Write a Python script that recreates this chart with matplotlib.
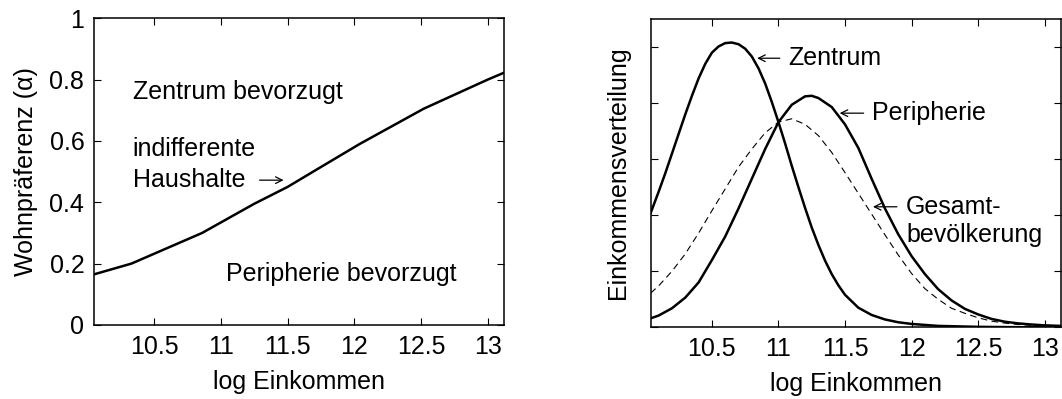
import matplotlib
matplotlib.use("Agg")
import matplotlib.pyplot as plt

plt.rcParams['font.family'] = ['Liberation Sans', 'DejaVu Sans']
plt.rcParams['font.size'] = 18

# left panel: Wohnpraeferenz der indifferenten Haushalte
x_alpha = [10.05, 10.33, 10.86, 11.25, 11.5, 11.75, 12.04, 12.52, 13.0, 13.12]
alpha = [0.165, 0.20, 0.30, 0.395, 0.45, 0.515, 0.59, 0.705, 0.80, 0.822]

# right panel: Einkommensverteilungen
x_zen = [10.04, 10.1, 10.15, 10.2, 10.25, 10.3, 10.35, 10.4, 10.45, 10.5, 10.55,
         10.6, 10.65, 10.7, 10.75, 10.8, 10.85, 10.9, 10.95, 11.0, 11.05, 11.1,
         11.15, 11.2, 11.25, 11.3, 11.35, 11.4, 11.45, 11.5, 11.6, 11.7, 11.8,
         11.9, 12.0, 12.2, 12.5, 12.8, 13.12]
zentrum = [2.04, 2.42, 2.75, 3.1, 3.45, 3.8, 4.13, 4.44, 4.7, 4.9, 5.01,
           5.07, 5.08, 5.05, 4.97, 4.83, 4.62, 4.35, 4.02, 3.66, 3.28, 2.88,
           2.5, 2.13, 1.78, 1.47, 1.19, 0.95, 0.75, 0.58, 0.35, 0.22, 0.14,
           0.09, 0.06, 0.025, 0.008, 0.002, 0.0]

x_per = [10.04, 10.1, 10.2, 10.3, 10.4, 10.5, 10.6, 10.7, 10.8, 10.9, 11.0, 11.1,
         11.2, 11.25, 11.3, 11.4, 11.5, 11.6, 11.7, 11.8, 11.9, 12.0, 12.1, 12.2,
         12.3, 12.4, 12.5, 12.6, 12.7, 12.8, 12.9, 13.0, 13.12]
peripherie = [0.16, 0.21, 0.34, 0.53, 0.8, 1.2, 1.62, 2.12, 2.65, 3.18, 3.66, 3.97,
              4.12, 4.13, 4.09, 3.93, 3.62, 3.2, 2.65, 2.12, 1.66, 1.27, 0.95, 0.68,
              0.48, 0.33, 0.23, 0.15, 0.1, 0.07, 0.05, 0.035, 0.025]

x_ges = [10.04, 10.1, 10.2, 10.3, 10.4, 10.5, 10.6, 10.7, 10.8, 10.9, 11.0, 11.1,
         11.2, 11.3, 11.4, 11.5, 11.6, 11.7, 11.8, 11.9, 12.0, 12.1, 12.2, 12.3,
         12.4, 12.5, 12.6, 12.7, 12.8, 12.9, 13.0, 13.12]
gesamt = [0.61, 0.74, 1.0, 1.31, 1.68, 2.08, 2.47, 2.86, 3.18, 3.47, 3.66, 3.72,
          3.62, 3.42, 3.12, 2.76, 2.39, 2.02, 1.65, 1.29, 0.96, 0.69, 0.5, 0.34,
          0.25, 0.17, 0.11, 0.075, 0.05, 0.035, 0.025, 0.018]

xticks = [10.5, 11, 11.5, 12, 12.5, 13]
xticklabels = ['10.5', '11', '11.5', '12', '12.5', '13']


def matlab_axes(ax):
    for s in ax.spines.values():
        s.set_linewidth(1.1)
    ax.tick_params(direction='in', length=5, width=0.8, top=True, right=True,
                   pad=7)


def arrow(ax, tip, tail):
    ax.annotate('', xy=tip, xytext=tail,
                arrowprops=dict(arrowstyle='->', lw=0.9, color='black',
                                shrinkA=0, shrinkB=0, mutation_scale=12))


fig = plt.figure(figsize=(10.62, 3.99), dpi=100)

ax1 = fig.add_axes([0.0885, 0.1855, 0.386, 0.769])
ax1.plot(x_alpha, alpha, color='black', lw=1.8)
ax1.set_xlim(10.05, 13.12)
ax1.set_ylim(0, 1)
ax1.set_xticks(xticks)
ax1.set_xticklabels(xticklabels)
ax1.set_yticks([0, 0.2, 0.4, 0.6, 0.8, 1])
ax1.set_yticklabels(['0', '0.2', '0.4', '0.6', '0.8', '1'])
ax1.set_xlabel('log Einkommen', labelpad=8)
ax1.set_ylabel('Wohnpräferenz (α)', labelpad=8)
matlab_axes(ax1)
ax1.text(10.34, 0.76, 'Zentrum bevorzugt', va='center', ha='left')
ax1.text(10.34, 0.573, 'indifferente', va='center', ha='left')
ax1.text(10.34, 0.472, 'Haushalte', va='center', ha='left')
arrow(ax1, (11.47, 0.472), (11.29, 0.472))
ax1.text(11.04, 0.166, 'Peripherie bevorzugt', va='center', ha='left')

ax2 = fig.add_axes([0.6127, 0.1797, 0.386, 0.7727])
ax2.plot(x_zen, zentrum, color='black', lw=1.8)
ax2.plot(x_per, peripherie, color='black', lw=1.8)
ax2.plot(x_ges, gesamt, color='black', lw=0.8, dashes=(6, 4))
ax2.set_xlim(10.04, 13.12)
ax2.set_ylim(0, 5.5)
ax2.set_xticks(xticks)
ax2.set_xticklabels(xticklabels)
ax2.set_yticks([0, 1, 2, 3, 4, 5])
ax2.set_yticklabels([])
ax2.set_xlabel('log Einkommen', labelpad=8)
ax2.set_ylabel('Einkommensverteilung', labelpad=8)
matlab_axes(ax2)
arrow(ax2, (10.84, 4.8), (11.01, 4.8))
ax2.text(11.07, 4.8, 'Zentrum', va='center', ha='left')
arrow(ax2, (11.46, 3.82), (11.64, 3.82))
ax2.text(11.70, 3.82, 'Peripherie', va='center', ha='left')
arrow(ax2, (11.71, 2.15), (11.89, 2.15))
ax2.text(11.96, 2.15, 'Gesamt-', va='center', ha='left')
ax2.text(11.96, 1.65, 'bevölkerung', va='center', ha='left')

fig.savefig('out.png', dpi=100)
